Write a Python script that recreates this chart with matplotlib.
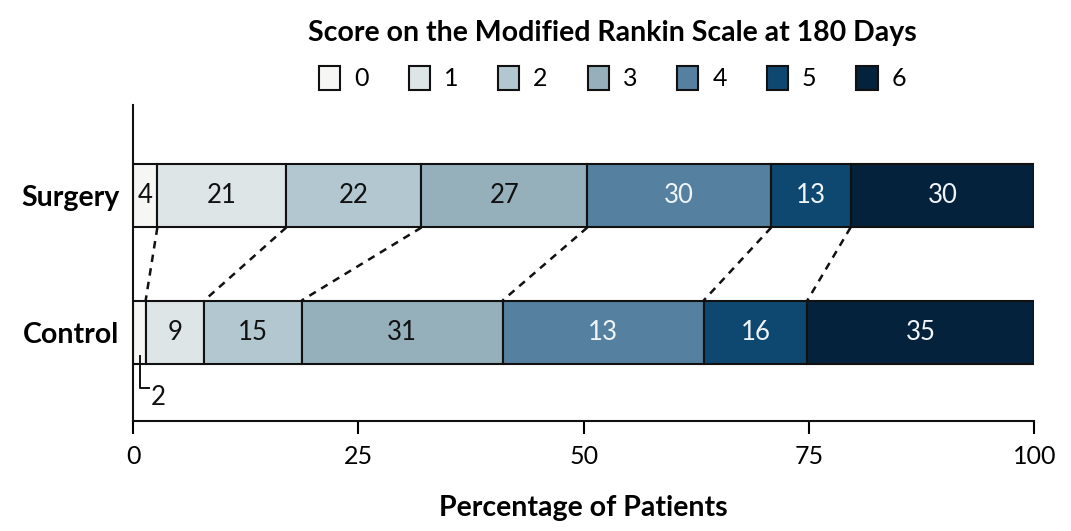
import matplotlib.pyplot as plt
import matplotlib.patches as mpatches

plt.rcParams['font.family'] = ['Lato', 'DejaVu Sans']

# Data
groups = ["Control", "Surgery"]
scores = ["0", "1", "2", "3", "4", "5", "6"]
surgery_counts = [4, 21, 22, 27, 30, 13, 30]
control_counts = [2, 9, 15, 31, 13, 16, 35]
surgery_pct = [2.7, 14.3, 15.0, 18.4, 20.4, 8.8, 20.4]
control_pct = [1.4, 6.5, 10.8, 22.3, 22.3, 11.5, 25.2]

colors = ["#f6f6f4", "#dde5e7", "#b2c7d0", "#95afbb", "#55809f", "#0e4870", "#05223c"]
text_colors = ["#111111"] * 4 + ["#eef4f7"] * 3

fig = plt.figure(figsize=(10.71, 5.31), dpi=100)
ax = fig.add_axes([0.1242, 0.2072, 0.8417, 0.5951])

bar_h = 0.463
rows = [(0, control_pct, control_counts), (1, surgery_pct, surgery_counts)]
cums = {}
for y, pct, counts in rows:
    left = 0
    edges = []
    for i, (w, c) in enumerate(zip(pct, counts)):
        ax.barh(y, w, left=left, height=bar_h, color=colors[i],
                edgecolor="#111111", linewidth=1.5)
        if not (y == 0 and i == 0):
            ax.text(left + w / 2, y, str(c), ha="center", va="center",
                    fontsize=18.5, color=text_colors[i])
        left += w
        edges.append(left)
    cums[y] = edges

# Dashed connectors between category boundaries
for s, c in zip(cums[1][:-1], cums[0][:-1]):
    ax.plot([s, c], [1 - bar_h / 2, bar_h / 2], ls=(0, (3, 2.5)),
            color="#111111", lw=1.8)

# Call-out for the tiny "2" segment
x0 = control_pct[0] / 2 + 0.1
ax.plot([x0, x0, x0 + 1.0], [-0.18, -0.41, -0.41], color="#111111", lw=1.4)
ax.text(x0 + 1.2, -0.48, str(control_counts[0]), ha="left", va="center",
        fontsize=18.5, color="#111111")

ax.set_xlim(0, 100)
ax.set_ylim(-0.654, 1.669)
ax.set_xticks([0, 25, 50, 75, 100])
ax.set_yticks([0, 1])
ax.set_yticklabels(groups, fontsize=20.5, fontweight="bold")
ax.tick_params(axis="y", length=0, pad=10)
ax.tick_params(axis="x", length=9, width=1.5, labelsize=18, pad=8)
for side in ["top", "right"]:
    ax.spines[side].set_visible(False)
for side in ["left", "bottom"]:
    ax.spines[side].set_linewidth(1.5)
    ax.spines[side].set_color("#111111")
ax.set_xlabel("Percentage of Patients", fontsize=20.5, fontweight="bold", labelpad=20)

fig.text(0.572, 0.937, "Score on the Modified Rankin Scale at 180 Days",
         ha="center", va="center", fontsize=20.5, fontweight="bold")

handles = [mpatches.Patch(facecolor=colors[i], edgecolor="#111111", linewidth=1.5,
                          label=scores[i]) for i in range(7)]
fig.legend(handles=handles, loc="center", bbox_to_anchor=(0.572, 0.853), ncol=7,
           frameon=False, fontsize=18, handlelength=0.85, handleheight=1.15,
           handletextpad=0.55, columnspacing=1.6)

fig.savefig("out.png", dpi=100)
